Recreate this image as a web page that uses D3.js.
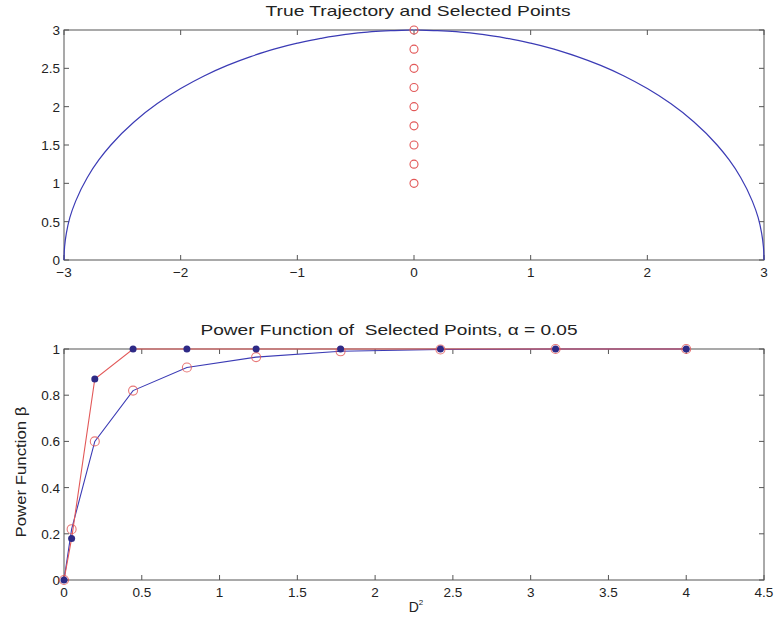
<!DOCTYPE html>
<html><head><meta charset="utf-8">
<script src="https://cdn.jsdelivr.net/npm/d3@7"></script>
<style>body{margin:0;background:#fff}svg{display:block}text{font-family:"Liberation Sans",Arial,sans-serif;fill:#222}</style>
</head><body><svg id="c" width="774" height="632"></svg>
<script>
// Top plot: true trajectory (semicircle)
const trajX = [-3,-2.995,-2.98,-2.95,-2.9,-2.8,-2.7,-2.6,-2.4,-2.2,-2,-1.8,-1.6,-1.4,-1.2,-1,-0.8,-0.6,-0.4,-0.2,0,0.2,0.4,0.6,0.8,1,1.2,1.4,1.6,1.8,2,2.2,2.4,2.6,2.7,2.8,2.9,2.95,2.98,2.995,3];
const trajY = [0,0.173,0.346,0.552,0.768,1.077,1.308,1.497,1.8,2.04,2.236,2.4,2.538,2.653,2.75,2.828,2.891,2.939,2.973,2.993,3,2.993,2.973,2.939,2.891,2.828,2.75,2.653,2.538,2.4,2.236,2.04,1.8,1.497,1.308,1.077,0.768,0.552,0.346,0.173,0];
const selX = [0,0,0,0,0,0,0,0,0];
const selY = [3,2.75,2.5,2.25,2,1.75,1.5,1.25,1];
const topXTicks = [-3,-2,-1,0,1,2,3];
const topYTicks = [0,0.5,1,1.5,2,2.5,3];

// Bottom plot: power functions
const d2 = [0,0.049,0.198,0.444,0.790,1.235,1.778,2.420,3.160,4.0];
const powerRed = [0,0.18,0.87,1,1,1,1,1,1,1];        // red line, dark dot markers
const powerBlue = [0,0.22,0.60,0.82,0.92,0.965,0.99,0.998,1,1]; // blue line, red circle markers
const botXTicks = [0,0.5,1,1.5,2,2.5,3,3.5,4,4.5];
const botYTicks = [0,0.2,0.4,0.6,0.8,1];

const svg = d3.select("#c");
const BLUE = "#3b3bb5", RED = "#e25858", DOT = "#2e2a86", AX = "#555";

function frame(g, x, y, xt, yt, fmtX, fmtY){
  const [x0,x1] = x.range(), [y0,y1] = y.range();
  g.append("rect").attr("x",x0).attr("y",y1).attr("width",x1-x0).attr("height",y0-y1)
    .attr("fill","none").attr("stroke",AX).attr("stroke-width",1);
  const tl = 5;
  xt.forEach(v=>{
    const px = x(v);
    g.append("line").attr("x1",px).attr("x2",px).attr("y1",y0).attr("y2",y0-tl).attr("stroke",AX);
    g.append("line").attr("x1",px).attr("x2",px).attr("y1",y1).attr("y2",y1+tl).attr("stroke",AX);
    g.append("text").attr("x",px).attr("y",y0+17).attr("text-anchor","middle").attr("font-size",13.5).text(fmtX(v));
  });
  yt.forEach(v=>{
    const py = y(v);
    g.append("line").attr("x1",x0).attr("x2",x0+tl).attr("y1",py).attr("y2",py).attr("stroke",AX);
    g.append("line").attr("x1",x1).attr("x2",x1-tl).attr("y1",py).attr("y2",py).attr("stroke",AX);
    g.append("text").attr("x",x0-4).attr("y",py+5).attr("text-anchor","end").attr("font-size",13.5).text(fmtY(v));
  });
}
const fmt = v => (v<0 ? "\u2212"+Math.abs(v) : String(v));

// ---- top
const xT = d3.scaleLinear().domain([-3,3]).range([64,764]);
const yT = d3.scaleLinear().domain([0,3]).range([260,30]);
const gT = svg.append("g");
frame(gT, xT, yT, topXTicks, topYTicks, fmt, fmt);
gT.append("path").datum(trajX.map((v,i)=>[v,trajY[i]]))
  .attr("d", d3.line().x(d=>xT(d[0])).y(d=>yT(d[1])).curve(d3.curveMonotoneY))
  .attr("fill","none").attr("stroke",BLUE).attr("stroke-width",1.2);
gT.selectAll(".sel").data(selY).enter().append("circle")
  .attr("cx",(d,i)=>xT(selX[i])).attr("cy",d=>yT(d)).attr("r",4)
  .attr("fill","none").attr("stroke",RED).attr("stroke-width",1.1);
svg.append("text").attr("x",418).attr("y",16).attr("text-anchor","middle").attr("font-size",14.5)
  .attr("textLength",305).attr("lengthAdjust","spacingAndGlyphs").text("True Trajectory and Selected Points");

// ---- bottom
const xB = d3.scaleLinear().domain([0,4.5]).range([64,764]);
const yB = d3.scaleLinear().domain([0,1]).range([580,349]);
const gB = svg.append("g");
frame(gB, xB, yB, botXTicks, botYTicks, fmt, fmt);
const line = d3.line().x((d,i)=>xB(d2[i])).y(d=>yB(d));
gB.append("path").datum(powerBlue).attr("d",line).attr("fill","none").attr("stroke",BLUE).attr("stroke-width",1.1);
gB.append("path").datum(powerRed).attr("d",line).attr("fill","none").attr("stroke",RED).attr("stroke-width",1.1);
gB.selectAll(".bc").data(powerBlue).enter().append("circle")
  .attr("cx",(d,i)=>xB(d2[i])).attr("cy",d=>yB(d)).attr("r",4.5)
  .attr("fill","none").attr("stroke",RED).attr("stroke-width",1.1).attr("opacity",0.8);
gB.selectAll(".rd").data(powerRed).enter().append("circle")
  .attr("cx",(d,i)=>xB(d2[i])).attr("cy",d=>yB(d)).attr("r",3.5)
  .attr("fill",DOT);
svg.append("text").attr("x",389).attr("y",335).attr("text-anchor","middle").attr("font-size",14.5)
  .attr("textLength",377).attr("lengthAdjust","spacingAndGlyphs")
  .attr("xml:space","preserve").text("Power Function of  Selected Points, \u03b1 = 0.05");
const xl = svg.append("text").attr("x",416).attr("y",612).attr("text-anchor","middle").attr("font-size",14);
xl.append("tspan").text("D");
xl.append("tspan").attr("font-size",8).attr("dy",-7).text("2");
svg.append("text").attr("transform","translate(26,472) rotate(-90)").attr("text-anchor","middle").attr("font-size",15)
  .attr("textLength",131).attr("lengthAdjust","spacingAndGlyphs").text("Power Function \u03b2");
</script></body></html>
